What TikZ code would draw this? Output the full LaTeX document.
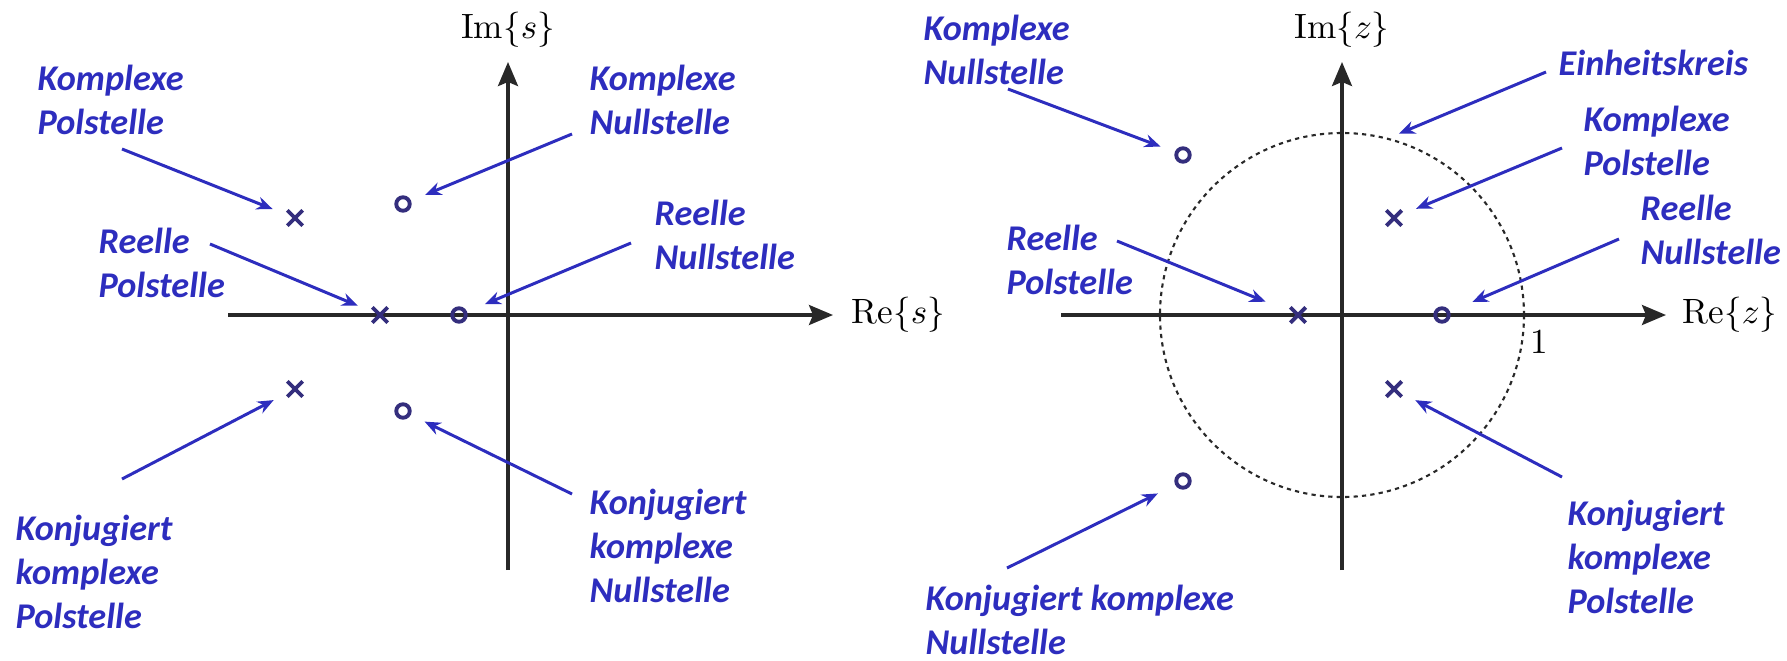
\documentclass[tikz,border=0pt]{standalone}
\usepackage{amsmath}
\usepackage{xcolor}
\usepackage{fontspec}
\newfontfamily\notefont{Carlito}
\usepackage{tikz}
\usetikzlibrary{shapes,arrows.meta,positioning,calc}
\definecolor{noteblue}{RGB}{45,45,190}
\definecolor{markcol}{RGB}{52,46,125}
\definecolor{axiscol}{RGB}{40,40,40}
\tikzstyle{note} = [text=noteblue, align=left, anchor=west, inner sep=0pt, font=\notefont\bfseries\itshape\fontsize{10.3}{12.6}\selectfont]
\tikzstyle{pole} = [cross out, draw=markcol, line width=1.1pt, minimum size=0.115cm, inner sep=0pt]
\tikzstyle{zero} = [circle, draw=markcol, line width=1.1pt, minimum size=0.135cm, inner sep=0pt]
\tikzstyle{axis} = [draw=axiscol, line width=0.9pt, -{Stealth[length=0.24cm,width=0.2cm,inset=0.04cm]}]
\tikzstyle{pointer} = [draw=noteblue, line width=0.85pt, -{Stealth[length=0.16cm,width=0.13cm]}, shorten >=0.24cm]
\tikzstyle{unitcircle} = [draw=axiscol, line width=0.6pt, dash pattern=on 1.2pt off 1.2pt]

\begin{document}
\begin{tikzpicture}[x=0.01cm, y=0.01cm]
    \useasboundingbox (0,0) rectangle (1787,-660);

    % s-Ebene
    \coordinate (reS0) at (228,-315); \coordinate (reS) at (833,-315);
    \coordinate (imS0) at (508,-570); \coordinate (imS) at (508,-62);
    \draw[axis] (reS0) -- (reS); \draw[axis] (imS0) -- (imS);
    \node[inner sep=0pt, right=0.18cm of reS] (lblReS) {$\mathrm{Re}\{s\}$};
    \node[inner sep=0pt, above=0.14cm of imS] (lblImS) {$\mathrm{Im}\{s\}$};

    \node[pole] (pK) at (295,-218) {};
    \node[pole] (pKK) at (295,-389) {};
    \node[pole] (pR) at (380,-315) {};
    \node[zero] (zK) at (403,-204) {};
    \node[zero] (zKK) at (403,-411) {};
    \node[zero] (zR) at (459,-315) {};

    \node[note] (tKP) at (37,-100) {Komplexe\\Polstelle};
    \node[note] (tKN) at (589,-100) {Komplexe\\Nullstelle};
    \node[note] (tRP) at (98,-263) {Reelle\\Polstelle};
    \node[note] (tRN) at (654,-235) {Reelle\\Nullstelle};
    \node[note] (tKKP) at (15,-572) {Konjugiert\\komplexe\\Polstelle};
    \node[note] (tKKN) at (589,-546) {Konjugiert\\komplexe\\Nullstelle};

    \coordinate (aKP) at (122,-149); \coordinate (aKN) at (572,-134);
    \coordinate (aRP) at (210,-244); \coordinate (aRN) at (631,-243);
    \coordinate (aKKP) at (122,-479); \coordinate (aKKN) at (572,-494);
    \draw[pointer] (aKP) -- (pK.center); \draw[pointer] (aKN) -- (zK.center);
    \draw[pointer] (aRP) -- (pR.center); \draw[pointer, shorten >=0.28cm] (aRN) -- (zR.center);
    \draw[pointer] (aKKP) -- (pKK.center); \draw[pointer] (aKKN) -- (zKK.center);

    % z-Ebene
    \coordinate (o) at (1342,-315);
    \draw[unitcircle] (o) circle (182);
    \coordinate (reZ0) at (1061,-315); \coordinate (reZ) at (1666,-315);
    \coordinate (imZ0) at (1342,-570); \coordinate (imZ) at (1342,-62);
    \draw[axis] (reZ0) -- (reZ); \draw[axis] (imZ0) -- (imZ);
    \node[inner sep=0pt, right=0.16cm of reZ] (lblReZ) {$\mathrm{Re}\{z\}$};
    \node[inner sep=0pt, above=0.14cm of imZ] (lblImZ) {$\mathrm{Im}\{z\}$};
    \node (one) at (1539,-342) {$1$};

    \node[zero] (zK2) at (1183,-155) {};
    \node[zero] (zKK2) at (1183,-481) {};
    \node[pole] (pK2) at (1394,-218) {};
    \node[pole] (pKK2) at (1394,-389) {};
    \node[pole] (pR2) at (1298,-315) {};
    \node[zero] (zR2) at (1442,-315) {};

    \node[note] (tKN2) at (923,-50) {Komplexe\\Nullstelle};
    \node[note] (tEK) at (1558,-63) {Einheitskreis};
    \node[note] (tKP2) at (1583,-141) {Komplexe\\Polstelle};
    \node[note] (tRN2) at (1640,-230) {Reelle\\Nullstelle};
    \node[note] (tRP2) at (1006,-260) {Reelle\\Polstelle};
    \node[note] (tKKP2) at (1567,-557) {Konjugiert\\komplexe\\Polstelle};
    \node[note] (tKKN2) at (925,-620) {Konjugiert komplexe\\Nullstelle};

    \coordinate (ucP) at ($(o)+(75.7:182)$);
    \coordinate (aKN2) at (1008,-89); \coordinate (aEK) at (1546,-72);
    \coordinate (aKP2) at (1562,-148); \coordinate (aRN2) at (1619,-239);
    \coordinate (aRP2) at (1117,-241); \coordinate (aKKP2) at (1562,-477);
    \coordinate (aKKN2) at (1007,-568);
    \draw[pointer] (aKN2) -- (zK2.center); \draw[pointer, shorten >=0.13cm] (aEK) -- (ucP);
    \draw[pointer] (aKP2) -- (pK2.center); \draw[pointer, shorten >=0.33cm] (aRN2) -- (zR2.center);
    \draw[pointer, shorten >=0.35cm] (aRP2) -- (pR2.center); \draw[pointer] (aKKP2) -- (pKK2.center);
    \draw[pointer, shorten >=0.28cm] (aKKN2) -- (zKK2.center);
\end{tikzpicture}
\end{document}
